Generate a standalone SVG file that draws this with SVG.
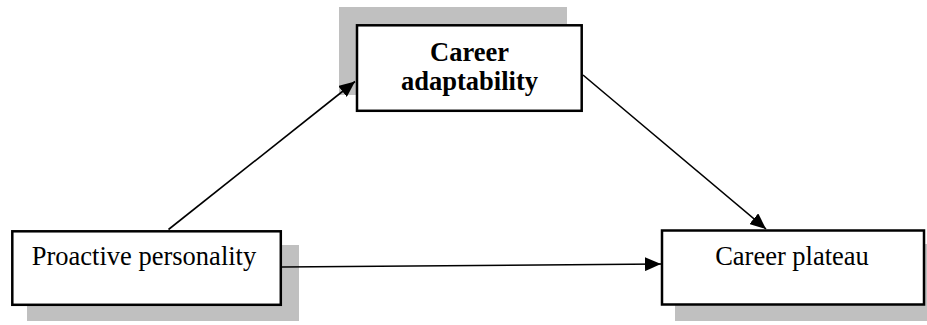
<svg xmlns="http://www.w3.org/2000/svg" width="927" height="325" viewBox="0 0 927 325">
  <defs>
    <style>
      .shadow { fill: #c0c0c0; }
      .box { fill: #ffffff; stroke: #000000; stroke-width: 2.5; }
      .label { font-family: "Liberation Serif", "Times New Roman", serif; font-size: 26.5px; fill: #000000; text-anchor: middle; }
      .bold { font-weight: bold; }
      .edge { stroke: #000000; stroke-width: 1.6; fill: none; marker-end: url(#arrow); }
    </style>
    <marker id="arrow" markerUnits="userSpaceOnUse" markerWidth="17" markerHeight="14" refX="16" refY="7" orient="auto">
      <path d="M0,0 L16,7 L0,14 z" fill="#000000"/>
    </marker>
  </defs>

  <!-- Mediator: Career adaptability -->
  <g id="career-adaptability">
    <rect class="shadow" x="339" y="7" width="228" height="88"/>
    <rect class="box" x="357" y="25.3" width="224.7" height="85.5"/>
    <text class="label bold" x="469.5" y="61">Career</text>
    <text class="label bold" x="469.5" y="90">adaptability</text>
  </g>

  <!-- Predictor: Proactive personality -->
  <g id="proactive-personality">
    <rect class="shadow" x="27" y="245" width="272" height="76"/>
    <rect class="box" x="12.3" y="231.3" width="268.5" height="73.5"/>
    <text class="label" x="144" y="265">Proactive personality</text>
  </g>

  <!-- Outcome: Career plateau -->
  <g id="career-plateau">
    <rect class="shadow" x="675" y="244" width="265" height="77"/>
    <rect class="box" x="662" y="230.5" width="262" height="74"/>
    <text class="label" x="792" y="265">Career plateau</text>
  </g>

  <!-- Paths -->
  <g id="connectors">
    <line class="edge" x1="168.5" y1="229.5" x2="355" y2="81.5"/>
    <line class="edge" x1="583" y1="75" x2="766" y2="229"/>
    <line class="edge" x1="282" y1="267" x2="661" y2="264"/>
  </g>
</svg>
